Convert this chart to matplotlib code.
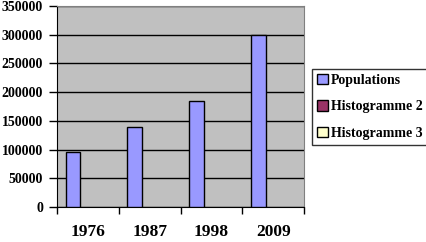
import matplotlib
matplotlib.use("Agg")
import matplotlib.pyplot as plt
import numpy as np

years = ["1976", "1987", "1998", "2009"]
populations = [95000, 139000, 185000, 300000]
histogramme_2 = [np.nan, np.nan, np.nan, np.nan]
histogramme_3 = [np.nan, np.nan, np.nan, np.nan]
series_names = ["Populations", "Histogramme 2", "Histogramme 3"]
series_colors = ["#9999FF", "#993366", "#FFFFCC"]
y_ticks = [0, 50000, 100000, 150000, 200000, 250000, 300000, 350000]

plt.rcParams['font.family'] = ['Liberation Serif', 'DejaVu Serif']
plt.rcParams['font.weight'] = 'bold'

fig = plt.figure(figsize=(4.26, 2.42), dpi=100)
ax = fig.add_axes([57 / 426, 35 / 242, 247 / 426, 201 / 242])
ax.set_facecolor("#C0C0C0")

x = np.arange(len(years))
w = 0.24
for i, (vals, name, col) in enumerate(zip([populations, histogramme_2, histogramme_3],
                                         series_names, series_colors)):
    ax.bar(x + (i - 1) * w, vals, w, color=col, edgecolor="black",
           linewidth=1, label=name, zorder=3)

ax.set_xlim(-0.5, 3.5)
ax.set_ylim(0, 350000)
ax.set_yticks(y_ticks)
ax.set_yticklabels([str(v) for v in y_ticks], fontsize=10, fontweight='bold')
ax.yaxis.grid(True, color="black", linewidth=1, zorder=1)
ax.set_axisbelow(True)

ax.set_xticks(x)
ax.set_xticklabels(years, fontsize=12.5, fontweight='bold')
ax.tick_params(axis='x', length=0, pad=12)
ax.set_xticks(np.arange(-0.5, 4.0, 1.0), minor=True)
ax.tick_params(axis='x', which='minor', length=5, width=1, direction='out')
ax.tick_params(axis='y', length=6, width=1, pad=4)

ax.spines['left'].set_color("black")
ax.spines['bottom'].set_color("black")
ax.spines['top'].set_color("#808080")
ax.spines['right'].set_color("#808080")

leg = fig.legend(loc="upper left", bbox_to_anchor=(312 / 426, 1 - 69 / 242),
                 fontsize=10, frameon=True, fancybox=False, handlelength=0.8,
                 handleheight=0.8, handletextpad=0.2, labelspacing=0.95,
                 borderpad=0.35, borderaxespad=0)
leg.get_frame().set_edgecolor("black")
leg.get_frame().set_linewidth(1)

fig.savefig("out.png", dpi=100)
